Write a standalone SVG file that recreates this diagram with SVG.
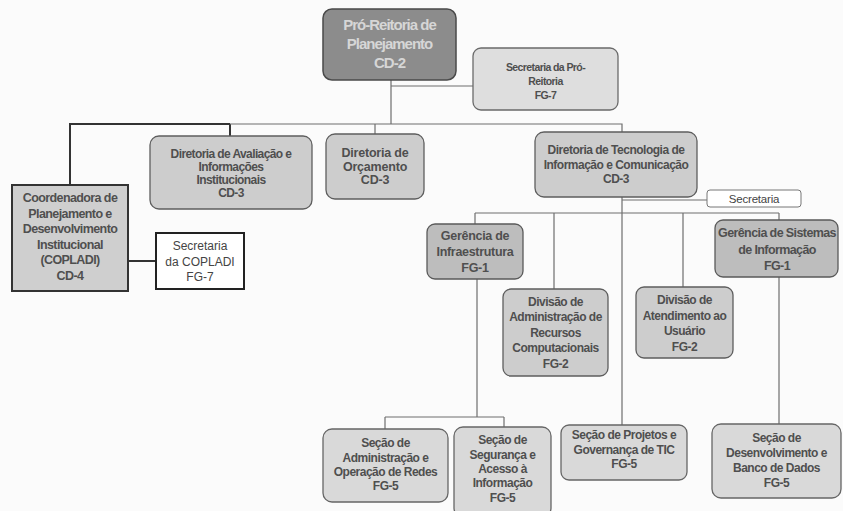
<svg xmlns="http://www.w3.org/2000/svg" width="843" height="511" viewBox="0 0 843 511">
<style>
  .bg{fill:#fbfbfb}
  .box{fill:#cdcdcd;stroke:#5e5e5e;stroke-width:1.3}
  .dark{fill:#8c8c8c;stroke:#4a4a4a;stroke-width:1.5}
  .light{fill:#dedede;stroke:#6a6a6a;stroke-width:1.3}
  .mid{fill:#bdbdbd;stroke:#5a5a5a;stroke-width:1.3}
  .sec{fill:#d9d9d9;stroke:#666;stroke-width:1.3}
  .sq{fill:#cfcfcf;stroke:#333;stroke-width:2}
  .wh{fill:#ffffff;stroke:#222;stroke-width:2}
  .whs{fill:#ffffff;stroke:#777;stroke-width:1}
  text{font-family:"Liberation Sans",Arial,sans-serif;font-weight:bold;font-size:12px;letter-spacing:-0.5px;fill:#4f4f4f;text-anchor:middle}
  .big{font-size:15px;letter-spacing:-1px;fill:#d6d6d6}
  .sm{font-size:10.5px;letter-spacing:-0.6px}
  .reg{font-weight:normal;letter-spacing:-0.2px;fill:#444}
  .cn{fill:none;stroke:#6e6e6e;stroke-width:1.2}
  .cd{fill:none;stroke:#333;stroke-width:2}
</style>
<rect class="bg" x="0" y="0" width="843" height="511"/>
<g id="connectors">
  <path class="cn" d="M391 80V124M391 86H473"/>
  <path class="cd" d="M230 124H70V185M230 124V136M128 261H156"/>
  <path class="cn" d="M230 124H622V132M375 124V134"/>
  <path class="cn" d="M622 197V425M622 200H707"/>
  <path class="cn" d="M475 213H779M475 213V224M554 213V289M683 213V287M779 213V220"/>
  <path class="cn" d="M477 279V417M385 417H504M385 417V429M504 417V427"/>
  <path class="cn" d="M779 277V424"/>
</g>
<g id="pro-reitoria">
  <rect class="dark" x="323" y="9" width="133" height="71" rx="9"/>
  <text class="big" x="389.5" y="30">Pró-Reitoria de</text>
  <text class="big" x="389.5" y="49">Planejamento</text>
  <text class="big" x="389.5" y="68">CD-2</text>
</g>
<g id="secretaria-pro-reitoria">
  <rect class="light" x="473" y="48" width="145" height="62" rx="8"/>
  <text class="sm" x="545.5" y="71">Secretaria da Pró-</text>
  <text class="sm" x="545.5" y="85">Reitoria</text>
  <text class="sm" x="545.5" y="99">FG-7</text>
</g>
<g id="diretoria-avaliacao">
  <rect class="box" x="150" y="136" width="162" height="73" rx="9"/>
  <text x="231" y="158" style="letter-spacing:-0.6px">Diretoria de Avaliação e</text>
  <text x="231" y="171" style="letter-spacing:-0.6px">Informações</text>
  <text x="231" y="183.5" style="letter-spacing:-0.6px">Institucionais</text>
  <text x="231" y="196.5" style="letter-spacing:-0.6px">CD-3</text>
</g>
<g id="diretoria-orcamento">
  <rect class="box" x="326" y="134" width="98" height="65" rx="9"/>
  <text x="375" y="157" style="font-size:12.5px;letter-spacing:-0.2px">Diretoria de</text>
  <text x="375" y="170.5" style="font-size:12.5px;letter-spacing:-0.2px">Orçamento</text>
  <text x="375" y="183.5" style="font-size:12.5px;letter-spacing:-0.2px">CD-3</text>
</g>
<g id="diretoria-ti">
  <rect class="box" x="535" y="132" width="162" height="65" rx="9"/>
  <text x="616" y="154">Diretoria de Tecnologia de</text>
  <text x="616" y="169">Informação e Comunicação</text>
  <text x="616" y="183">CD-3</text>
</g>
<g id="secretaria-ti">
  <rect class="whs" x="707" y="190" width="94" height="17" rx="3"/>
  <text class="reg" x="754" y="203" style="font-size:11.5px">Secretaria</text>
</g>
<g id="coordenadora">
  <rect class="sq" x="12" y="185" width="116" height="106"/>
  <text x="70" y="202" style="font-size:12.5px;letter-spacing:-0.6px">Coordenadora de</text>
  <text x="70" y="217.5" style="font-size:12.5px;letter-spacing:-0.6px">Planejamento e</text>
  <text x="70" y="233" style="font-size:12.5px;letter-spacing:-0.6px">Desenvolvimento</text>
  <text x="70" y="248.5" style="font-size:12.5px;letter-spacing:-0.6px">Institucional</text>
  <text x="70" y="264" style="font-size:12.5px;letter-spacing:-0.6px">(COPLADI)</text>
  <text x="70" y="280" style="font-size:12.5px;letter-spacing:-0.6px">CD-4</text>
</g>
<g id="secretaria-copladi">
  <rect class="wh" x="156" y="233" width="88" height="56"/>
  <text x="200" y="250" style="font-size:12px;font-weight:normal;letter-spacing:0px;fill:#444">Secretaria</text>
  <text x="200" y="265.5" style="font-size:12px;font-weight:normal;letter-spacing:0px;fill:#444">da COPLADI</text>
  <text x="200" y="281" style="font-size:12px;font-weight:normal;letter-spacing:0px;fill:#444">FG-7</text>
</g>
<g id="gerencia-infraestrutura">
  <rect class="mid" x="427" y="224" width="96" height="55" rx="8"/>
  <text x="475" y="240" style="font-size:12.5px;letter-spacing:-0.3px">Gerência de</text>
  <text x="475" y="256" style="font-size:12.5px;letter-spacing:-0.3px">Infraestrutura</text>
  <text x="475" y="272" style="font-size:12.5px;letter-spacing:-0.3px">FG-1</text>
</g>
<g id="gerencia-sistemas">
  <rect class="mid" x="715" y="220" width="123" height="57" rx="8"/>
  <text x="777" y="237" style="font-size:12.5px;letter-spacing:-0.6px">Gerência de Sistemas</text>
  <text x="777" y="254" style="font-size:12.5px;letter-spacing:-0.6px">de Informação</text>
  <text x="777" y="270" style="font-size:12.5px;letter-spacing:-0.6px">FG-1</text>
</g>
<g id="divisao-administracao">
  <rect class="box" x="503" y="289" width="105" height="87" rx="8"/>
  <text x="555.5" y="306">Divisão de</text>
  <text x="555.5" y="321">Administração de</text>
  <text x="555.5" y="336.5">Recursos</text>
  <text x="555.5" y="352">Computacionais</text>
  <text x="555.5" y="367.5">FG-2</text>
</g>
<g id="divisao-atendimento">
  <rect class="box" x="636" y="287" width="97" height="71" rx="8"/>
  <text x="684.5" y="304">Divisão de</text>
  <text x="684.5" y="319.5">Atendimento ao</text>
  <text x="684.5" y="335">Usuário</text>
  <text x="684.5" y="350.5">FG-2</text>
</g>
<g id="secao-redes">
  <rect class="sec" x="323" y="429" width="125" height="73" rx="9"/>
  <text x="385.5" y="447">Seção de</text>
  <text x="385.5" y="461.5">Administração e</text>
  <text x="385.5" y="476">Operação de Redes</text>
  <text x="385.5" y="490">FG-5</text>
</g>
<g id="secao-seguranca">
  <rect class="sec" x="454" y="427" width="97" height="90" rx="9"/>
  <text x="502.5" y="444">Seção de</text>
  <text x="502.5" y="459">Segurança e</text>
  <text x="502.5" y="473">Acesso à</text>
  <text x="502.5" y="487">Informação</text>
  <text x="502.5" y="501.5">FG-5</text>
</g>
<g id="secao-projetos">
  <rect class="sec" x="561" y="425" width="126" height="55" rx="8"/>
  <text x="624" y="439">Seção de Projetos e</text>
  <text x="624" y="454">Governança de TIC</text>
  <text x="624" y="468">FG-5</text>
</g>
<g id="secao-desenvolvimento">
  <rect class="sec" x="712" y="424" width="129" height="74" rx="9"/>
  <text x="776.5" y="442">Seção de</text>
  <text x="776.5" y="457">Desenvolvimento e</text>
  <text x="776.5" y="472">Banco de Dados</text>
  <text x="776.5" y="487">FG-5</text>
</g>
</svg>
